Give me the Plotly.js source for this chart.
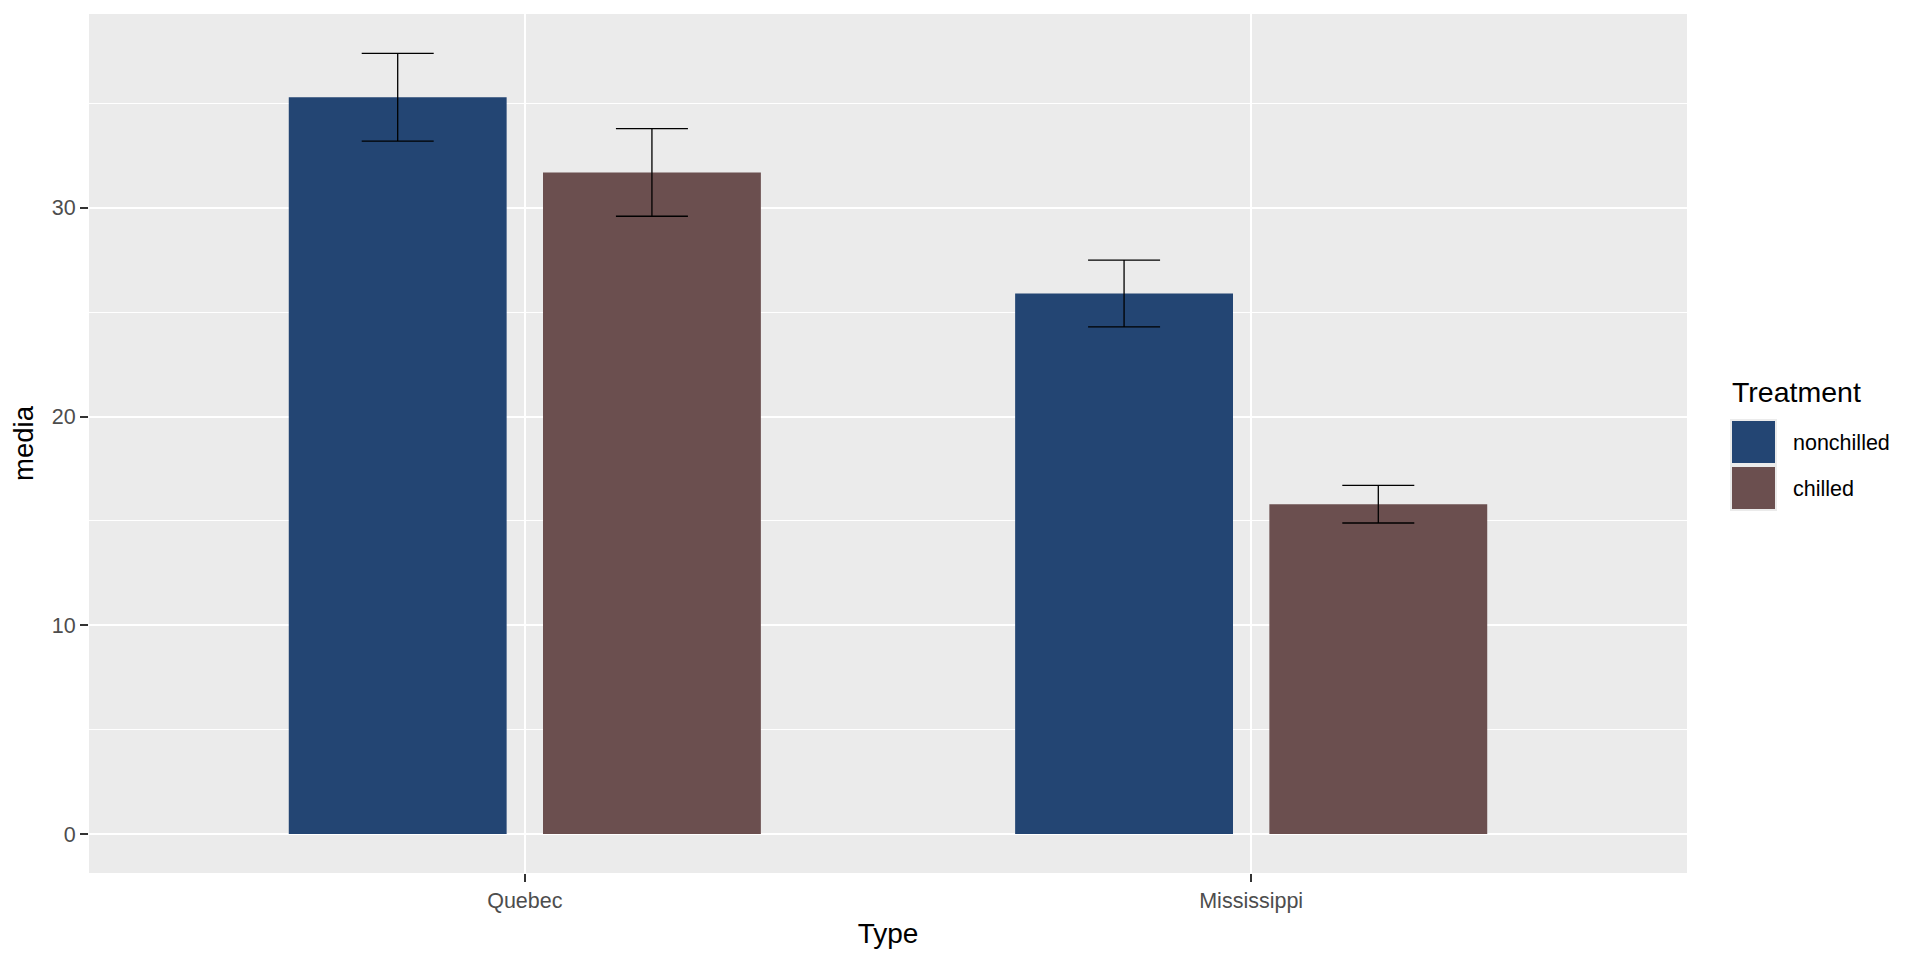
<!DOCTYPE html>
<html>
<head>
<meta charset="utf-8">
<script src="https://cdn.plot.ly/plotly-3.0.1.min.js"></script>
<style>html,body{margin:0;padding:0;background:#fff;}#chart{width:1920px;height:960px;}</style>
</head>
<body>
<div id="chart"></div>
<script>
const categories = ['Quebec', 'Mississippi'];
const treatments = ['nonchilled', 'chilled'];
const nonchilledMean = [35.3, 25.9];
const nonchilledErr = [2.1, 1.6];
const chilledMean = [31.7, 15.8];
const chilledErr = [2.1, 0.9];
const colors = ['#234573', '#6b4f4f'];

const W = 1920, H = 960;
const L = 89, R = 1687, T = 14, B = 873;
const px = x => (x - L) / (R - L);
const py = y => (B - y) / (B - T);

const font = 'Liberation Sans, Arial, sans-serif';

function barTrace(name, y, err, color) {
  return {
    type: 'bar', name: name, x: categories, y: y,
    marker: {color: color, line: {width: 0}},
    error_y: {type: 'data', array: err, visible: true, color: '#000', thickness: 1.3, width: 36},
    showlegend: false, hoverinfo: 'x+y+name'
  };
}

const data = [
  barTrace(treatments[0], nonchilledMean, nonchilledErr, colors[0]),
  barTrace(treatments[1], chilledMean, chilledErr, colors[1])
];

const shapes = [];
const annotations = [];
annotations.push({xref: 'paper', yref: 'paper', x: px(1730), y: py(392), xanchor: 'left', yanchor: 'middle',
  text: 'Treatment', showarrow: false, font: {family: font, size: 28.5, color: '#000'}});
treatments.forEach((t, i) => {
  const top = 419 + i * 46;
  shapes.push({type: 'rect', xref: 'paper', yref: 'paper', x0: px(1730), x1: px(1777), y0: py(top), y1: py(top + 46),
    fillcolor: '#ebebeb', line: {width: 0}, layer: 'above'});
  shapes.push({type: 'rect', xref: 'paper', yref: 'paper', x0: px(1732), x1: px(1775), y0: py(top + 2), y1: py(top + 44),
    fillcolor: colors[i], line: {width: 0}, layer: 'above'});
  annotations.push({xref: 'paper', yref: 'paper', x: px(1791), y: py(top + 24), xanchor: 'left', yanchor: 'middle',
    text: t, showarrow: false, font: {family: font, size: 21.5, color: '#000'}});
});

const layout = {
  width: W, height: H,
  margin: {l: L, r: W - R, t: T, b: H - B, pad: 0},
  paper_bgcolor: '#ffffff', plot_bgcolor: '#ebebeb',
  barmode: 'group', bargap: 0.3, bargroupgap: 0.143,
  font: {family: font},
  xaxis: {
    type: 'category', range: [-0.6, 1.6],
    showgrid: true, gridcolor: '#ffffff', gridwidth: 2,
    zeroline: false, showline: false,
    ticks: 'outside', ticklen: 8, tickwidth: 2, tickcolor: '#333333',
    tickfont: {family: font, size: 21.5, color: '#4d4d4d'},
    title: {text: 'Type', font: {family: font, size: 28, color: '#000'}, standoff: 11}
  },
  yaxis: {
    range: [-1.87, 39.29], tickvals: [0, 10, 20, 30],
    showgrid: true, gridcolor: '#ffffff', gridwidth: 2,
    minor: {tickvals: [5, 15, 25, 35], showgrid: true, gridcolor: '#ffffff', gridwidth: 1, ticks: ''},
    zeroline: false, showline: false,
    ticks: 'outside', ticklen: 8, tickwidth: 2, tickcolor: '#333333',
    tickfont: {family: font, size: 21.5, color: '#4d4d4d'},
    title: {text: 'media', font: {family: font, size: 27.5, color: '#000'}, standoff: 10}
  },
  shapes: shapes,
  annotations: annotations
};

Plotly.newPlot('chart', data, layout, {displayModeBar: false, staticPlot: true});
</script>
</body>
</html>
